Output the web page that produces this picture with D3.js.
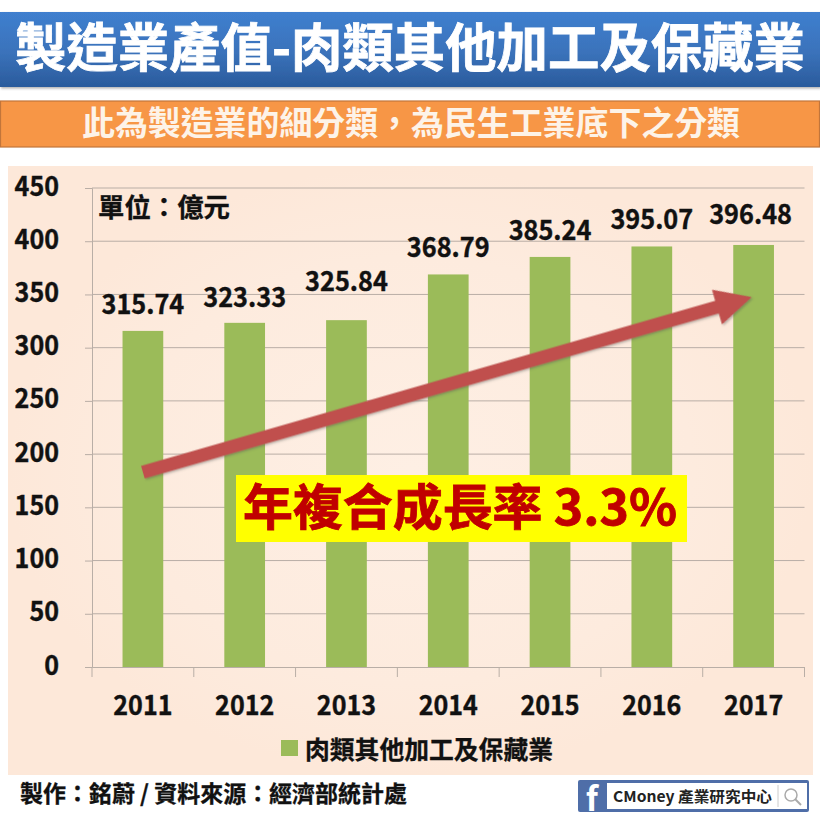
<!DOCTYPE html>
<html>
<head>
<meta charset="utf-8">
<script src="https://cdn.jsdelivr.net/npm/d3@7"></script>
<style>
	html, body { margin: 0; padding: 0; background: #fff; }
	svg { display: block; }
	text { font-family: "Noto Sans CJK TC", "Noto Sans", sans-serif; font-weight: 700; }
</style>
</head>
<body>
<div id="chart"></div>
<script>
var years = ["2011", "2012", "2013", "2014", "2015", "2016", "2017"];
var values = [315.74, 323.33, 325.84, 368.79, 385.24, 395.07, 396.48];
var valueTicks = [0, 50, 100, 150, 200, 250, 300, 350, 400, 450];
var seriesName = "肉類其他加工及保藏業";
var titleText = "製造業產值-肉類其他加工及保藏業";
var subtitleText = "此為製造業的細分類，為民生工業底下之分類";
var unitText = "單位：億元";
var growthText = "年複合成長率 3.3%";
var footerText = "製作：銘蔚 / 資料來源：經濟部統計處";
var brandText = "CMoney 產業研究中心";
// trend arrow, in chart units
var arrowFrom = { year: "2011", value: 183 };
var arrowTo = { year: "2017", value: 347.5 };

// labels were dragged by hand in the original, so each has its own lift above the bar
var labelLift = [26, 25, 38, 26, 26, 26, 30];
var labelShift = [0, 0, 0, 0, 0, 0, -3];

var width = 820, height = 820;
var left = 92, right = 804.5, top_ = 188, bottom = 667;
var ink = "#111";

var svg = d3.select("#chart").append("svg")
	.attr("width", width)
	.attr("height", height);

var defs = svg.append("defs");

function gradient(id, direction, stops) {
	var g = defs.append(direction == "radial" ? "radialGradient" : "linearGradient").attr("id", id);
	if (direction != "radial") {
		g.attr("x1", 0).attr("y1", 0).attr("x2", 0).attr("y2", 1);
	}
	stops.forEach(function(s) {
		g.append("stop").attr("offset", s[0]).attr("stop-color", s[1]);
	});
}
gradient("headerFill", "linear", [[0, "#3f7fcf"], [0.55, "#3a72ba"], [1, "#2a5b9c"]]);
gradient("panelFill", "radial", [[0, "#feefe4"], [0.7, "#fdebde"], [1, "#fde8d9"]]);

var blur = defs.append("filter").attr("id", "soft")
	.attr("x", "-5%").attr("y", "-20%").attr("width", "110%").attr("height", "140%");
blur.append("feDropShadow")
	.attr("dx", 1).attr("dy", 1.5).attr("stdDeviation", 1.2)
	.attr("flood-color", "#555").attr("flood-opacity", 0.45);

// digits in the original are squeezed, so they get a bigger size fitted to a fixed width
function squeezed(sel, size, perChar) {
	sel.attr("font-size", size)
		.attr("fill", ink)
		.attr("stroke", ink).attr("stroke-width", 0.4)
		.attr("lengthAdjust", "spacingAndGlyphs")
		.attr("textLength", function() {
			return d3.select(this).text().length * perChar;
		});
}

// ------------------------------------------------------------------------------------------
// header bands

svg.append("rect")
	.attr("x", 0).attr("y", 12).attr("width", width).attr("height", 75)
	.attr("fill", "url(#headerFill)")
	.attr("filter", "url(#soft)");

svg.append("text")
	.attr("x", 15).attr("y", 67)
	.attr("font-size", 52)
	.attr("fill", "#fff")
	.attr("stroke", "#fff").attr("stroke-width", 0.8)
	.attr("textLength", 790).attr("lengthAdjust", "spacingAndGlyphs")
	.text(titleText);

svg.append("rect")
	.attr("x", 0.5).attr("y", 101).attr("width", width - 1).attr("height", 46)
	.attr("fill", "#f79646")
	.attr("stroke", "#c2753a").attr("stroke-width", 1.2);

svg.append("text")
	.attr("x", 82).attr("y", 135)
	.attr("font-size", 33)
	.attr("fill", "#fdf3e8")
	.attr("textLength", 658).attr("lengthAdjust", "spacingAndGlyphs")
	.text(subtitleText);

// ------------------------------------------------------------------------------------------
// chart

svg.append("rect")
	.attr("x", 8).attr("y", 166).attr("width", 805).attr("height", 609)
	.attr("fill", "url(#panelFill)");

var x = d3.scaleBand()
	.domain(years)
	.range([left, right])
	.paddingInner(0.6)
	.paddingOuter(0.3);

var y = d3.scaleLinear()
	.domain([0, 450])
	.range([bottom, top_]);

function center(year) {
	return x(year) + x.bandwidth() / 2;
}

var gridColor = "#b9aea6";

var yAxis = svg.append("g")
	.attr("transform", "translate(" + left + ",0)")
	.call(d3.axisLeft(y).tickValues(valueTicks).tickSize(7).tickPadding(26));
yAxis.select(".domain").attr("stroke", gridColor);
yAxis.selectAll("line").attr("stroke", gridColor);
yAxis.selectAll("text")
	.call(squeezed, 27, 14.8)
	.attr("dy", "0.26em");

svg.append("g")
	.selectAll("line")
	.data(valueTicks.filter(function(d) { return d > 0; }))
	.enter().append("line")
	.attr("x1", left).attr("x2", right)
	.attr("y1", function(d) { return y(d); })
	.attr("y2", function(d) { return y(d); })
	.attr("stroke", gridColor)
	.attr("stroke-width", 1);

svg.append("g")
	.selectAll("rect")
	.data(values)
	.enter().append("rect")
	.attr("x", function(d, i) { return x(years[i]); })
	.attr("y", function(d) { return y(d); })
	.attr("width", x.bandwidth())
	.attr("height", function(d) { return y(0) - y(d); })
	.attr("fill", "#9bbb59");

// category axis ticks sit between the bars, not under them
var xAxis = svg.append("g")
	.attr("transform", "translate(0," + bottom + ")")
	.call(d3.axisBottom(x).tickSize(0).tickPadding(29));
xAxis.select(".domain").attr("stroke", gridColor);
xAxis.selectAll("text")
	.call(squeezed, 27, 14.8);

xAxis.selectAll("line.sep")
	.data(d3.range(years.length + 1))
	.enter().append("line")
	.attr("class", "sep")
	.attr("x1", function(d) { return left + d * x.step(); })
	.attr("x2", function(d) { return left + d * x.step(); })
	.attr("y1", 0).attr("y2", 10)
	.attr("stroke", gridColor);

svg.append("g")
	.selectAll("text")
	.data(values)
	.enter().append("text")
	.attr("x", function(d, i) { return center(years[i]) + labelShift[i]; })
	.attr("y", function(d, i) { return y(d) - labelLift[i] + 9; })
	.attr("text-anchor", "middle")
	.text(function(d) { return d.toFixed(2); })
	.call(squeezed, 27, 13.8);

svg.append("text")
	.attr("x", 98).attr("y", 217)
	.attr("font-size", 26.4)
	.attr("fill", ink)
	.attr("stroke", ink).attr("stroke-width", 0.3)
	.text(unitText);

// ------------------------------------------------------------------------------------------
// trend arrow

var ax = center(arrowFrom.year), ay = y(arrowFrom.value);
var bx = center(arrowTo.year) - 2, by = y(arrowTo.value);
var angle = Math.atan2(by - ay, bx - ax);
var length = Math.sqrt((bx - ax) * (bx - ax) + (by - ay) * (by - ay));
var shaft = 6.5, headWidth = 18, headLength = 36;

var arrowShape = [
	[0, -shaft], [length - headLength, -shaft], [length - headLength, -headWidth],
	[length, 0],
	[length - headLength, headWidth], [length - headLength, shaft], [0, shaft]
];

svg.append("polygon")
	.attr("points", arrowShape.map(function(p) { return p.join(","); }).join(" "))
	.attr("transform", "translate(" + ax + "," + ay + ") rotate(" + (angle * 180 / Math.PI) + ")")
	.attr("fill", "#c0504d")
	.attr("filter", "url(#soft)");

// ------------------------------------------------------------------------------------------
// growth callout

svg.append("rect")
	.attr("x", 236).attr("y", 475).attr("width", 451).attr("height", 67)
	.attr("fill", "#ffff00");

svg.append("text")
	.attr("x", 243).attr("y", 525)
	.attr("font-size", 49)
	.attr("fill", "#c00000")
	.attr("stroke", "#c00000").attr("stroke-width", 0.8)
	.attr("textLength", 434).attr("lengthAdjust", "spacingAndGlyphs")
	.text(growthText);

// ------------------------------------------------------------------------------------------
// legend and footer

svg.append("rect")
	.attr("x", 281).attr("y", 740).attr("width", 17).attr("height", 16)
	.attr("fill", "#9bbb59");

svg.append("text")
	.attr("x", 305).attr("y", 759)
	.attr("font-size", 24.8)
	.attr("fill", ink)
	.attr("stroke", ink).attr("stroke-width", 0.3)
	.text(seriesName);

svg.append("text")
	.attr("x", 20).attr("y", 802)
	.attr("font-size", 23)
	.attr("fill", ink)
	.attr("stroke", ink).attr("stroke-width", 0.3)
	.attr("textLength", 387).attr("lengthAdjust", "spacingAndGlyphs")
	.text(footerText);

var logo = svg.append("g");
logo.append("rect")
	.attr("x", 578).attr("y", 780).attr("width", 231).attr("height", 32).attr("rx", 2)
	.attr("fill", "#4f6ea8");
logo.append("rect")
	.attr("x", 607).attr("y", 783).attr("width", 200).attr("height", 26)
	.attr("fill", "#fff");
logo.append("text")
	.attr("x", 592).attr("y", 811)
	.attr("text-anchor", "middle")
	.attr("font-size", 33)
	.attr("font-family", '"Liberation Sans"')
	.attr("fill", "#fff")
	.text("f");
logo.append("text")
	.attr("x", 613).attr("y", 802)
	.attr("font-size", 15)
	.attr("fill", "#222")
	.attr("textLength", 159).attr("lengthAdjust", "spacingAndGlyphs")
	.text(brandText);
logo.append("line")
	.attr("x1", 778).attr("x2", 778).attr("y1", 785).attr("y2", 807)
	.attr("stroke", "#ccc");
logo.append("circle")
	.attr("cx", 791).attr("cy", 795).attr("r", 6)
	.attr("fill", "none").attr("stroke", "#aaa").attr("stroke-width", 1.5);
logo.append("line")
	.attr("x1", 795).attr("y1", 799).attr("x2", 801).attr("y2", 805)
	.attr("stroke", "#aaa").attr("stroke-width", 2);
</script>
</body>
</html>
